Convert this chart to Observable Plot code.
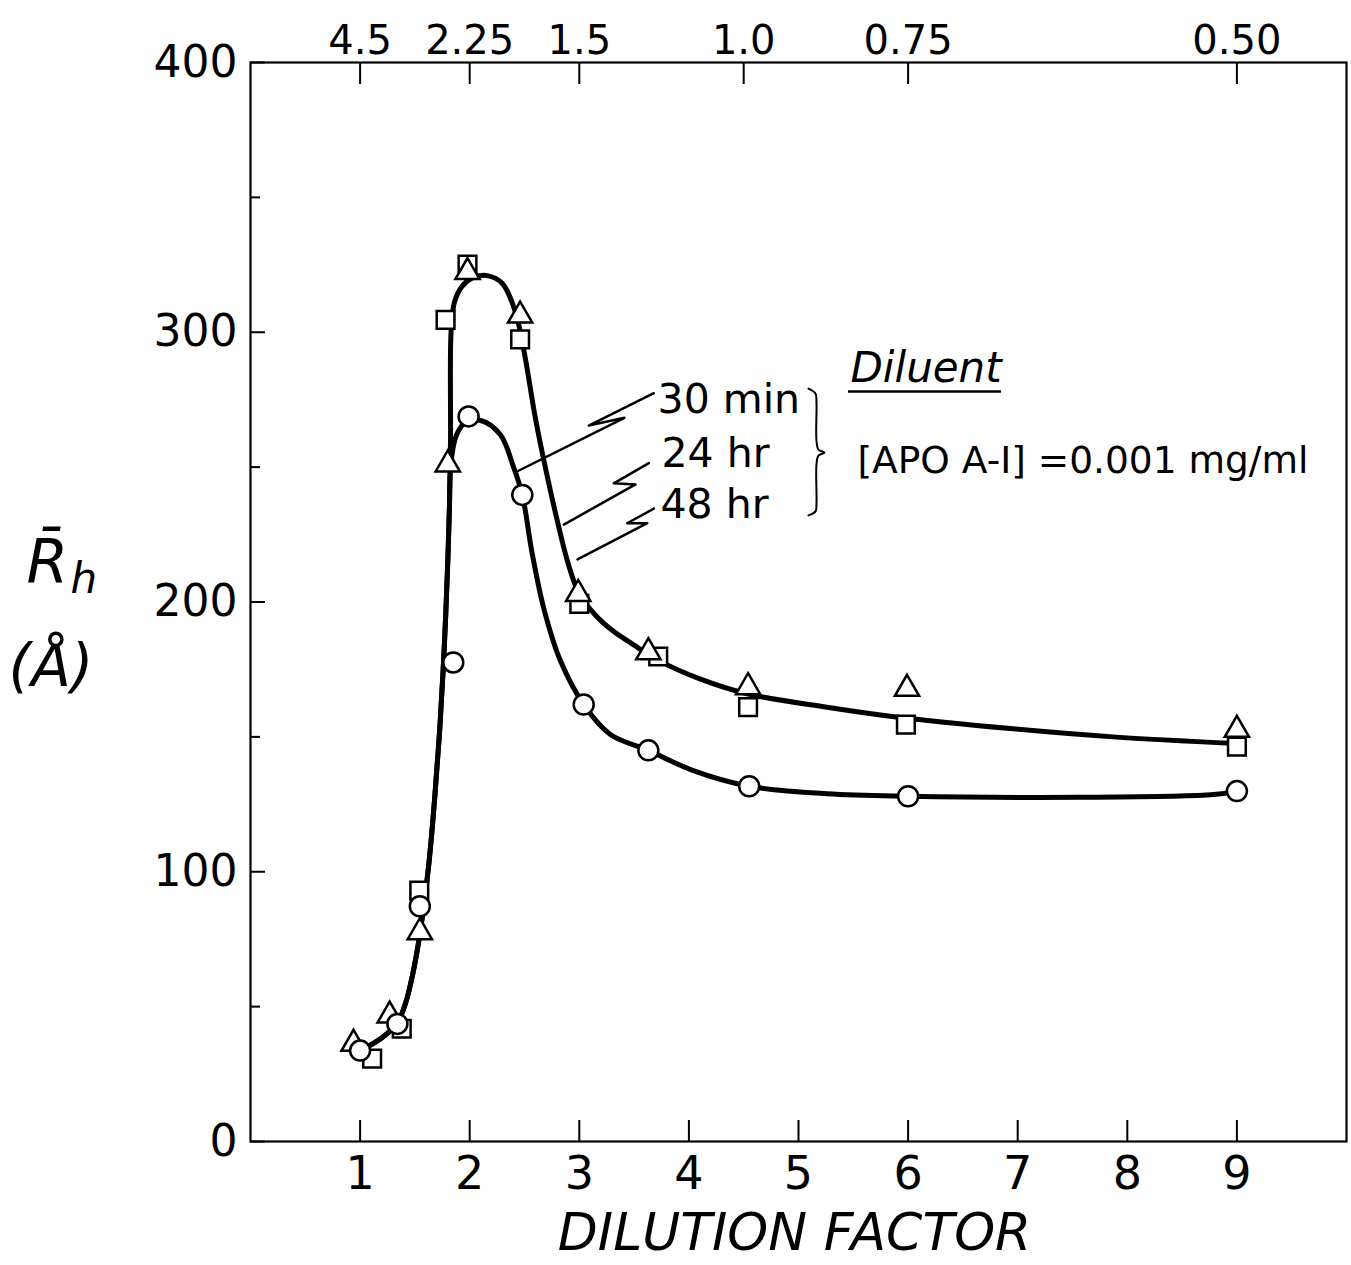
<!DOCTYPE html>
<html><head><meta charset="utf-8">
<script src="https://cdn.jsdelivr.net/npm/d3@7"></script>
<script src="https://cdn.jsdelivr.net/npm/@observablehq/plot@0.6"></script>
<style>
html,body{margin:0;padding:0;background:#fff;}
#chart svg{display:block;}
</style></head><body><div id="chart"></div>
<script>
// ---- data ----
const xTicks = [1, 2, 3, 4, 5, 6, 7, 8, 9];
const topTickPos = [1, 2, 3, 4.5, 6, 9];
const topTickLabels = ["4.5", "2.25", "1.5", "1.0", "0.75", "0.50"];
const yMajor = [0, 100, 200, 300, 400];
const yMinor = [50, 150, 250, 350];

// 30 min (circles)
const circleX = [1.0, 1.34, 1.545, 1.85, 1.99, 2.48, 3.04, 3.63, 4.55, 6.0, 9.0];
const circleY = [33.7, 43.6, 87.2, 177.6, 268.8, 239.7, 162, 145, 131.7, 128, 129.9];
// 24 hr (squares)
const squareX = [1.11, 1.38, 1.54, 1.78, 1.98, 2.46, 3.0, 3.72, 4.54, 5.98, 9.0];
const squareY = [30.7, 41.8, 93, 304.6, 325.1, 297.4, 199.3, 179.8, 161, 154.5, 146.4];
// 48 hr (triangles)
const triangleX = [0.94, 1.27, 1.545, 1.8, 1.98, 2.46, 2.99, 3.63, 4.54, 5.99, 9.0];
const triangleY = [36.2, 46.7, 77.6, 251, 322.3, 306.2, 203, 181.4, 168.4, 167.8, 152.6];

// hand-drawn fitted curves
const upperFitX = [1.0, 1.2, 1.34, 1.42, 1.48, 1.53, 1.58, 1.63, 1.68, 1.73, 1.77, 1.8, 1.815, 1.825, 1.83, 1.86, 1.93, 2.02, 2.16, 2.3, 2.42, 2.5, 2.6, 2.7, 2.8, 2.9, 3.0, 3.15, 3.3, 3.5, 3.74, 4.1, 4.53, 5.26, 5.87, 6.96, 7.87, 9.0];
const upperFitY = [33.7, 38.5, 44, 52, 62, 73, 87, 104, 127, 155, 185, 215, 235, 260, 300, 311, 317, 320, 321, 318, 307, 292, 268, 248, 230, 214, 203, 195, 189.5, 184, 178, 171.5, 166, 161, 157.5, 153, 150, 147.5];
const lowerFitX = [1.0, 1.2, 1.34, 1.42, 1.48, 1.53, 1.58, 1.63, 1.68, 1.73, 1.77, 1.8, 1.815, 1.83, 1.88, 1.96, 2.1, 2.28, 2.4, 2.48, 2.57, 2.68, 2.83, 3.04, 3.28, 3.63, 4.04, 4.55, 5.26, 6.0, 7.57, 8.79, 9.0];
const lowerFitY = [33.7, 38.5, 44, 52, 62, 73, 87, 104, 127, 155, 185, 215, 235, 252, 262, 266.5, 267.3, 262, 250, 239.7, 218, 197, 178, 162, 151, 145, 137.5, 131.7, 128.9, 128, 127.6, 128.6, 129.9];

// ---- build tables ----
const toRows = (xs, ys) => xs.map((x, i) => ({x, y: ys[i]}));
const circles = toRows(circleX, circleY);
const squares = toRows(squareX, squareY);
const triangles = toRows(triangleX, triangleY);
const upperFit = toRows(upperFitX, upperFitY);
const lowerFit = toRows(lowerFitX, lowerFitY);
const topLabel = new Map(topTickPos.map((p, i) => [p, topTickLabels[i]]));

// annotation geometry (leader lines with break marks, brace)
const leaders = [
  [[3.68, 277.4], [3.087, 265.4], [3.412, 268.3], [2.418, 248.1]],
  [[3.634, 251.5], [3.315, 244.0], [3.513, 243.6], [2.859, 228.7]],
  [[3.68, 234.6], [3.437, 229.2], [3.62, 229.2], [2.984, 215.8]]
].flatMap((pts, k) => pts.map(([x, y]) => ({x, y, k})));
const brace = [[5.091, 279.1], [5.155, 277.3], [5.164, 273.9], [5.164, 259.9], [5.182, 256.5], [5.237, 255.4], [5.182, 254.3], [5.164, 251.0], [5.164, 236.5], [5.155, 233.6], [5.091, 232.1]].map(([x, y]) => ({x, y}));

const FONT = "DejaVu Sans";

const chart = Plot.plot({
  width: 1351,
  height: 1265,
  marginLeft: 250,
  marginRight: 5,
  marginTop: 62,
  marginBottom: 124,
  x: {domain: [0, 10]},
  y: {domain: [0, 400]},
  style: {fontFamily: FONT, color: "black", background: "white"},
  marks: [
    Plot.frame({stroke: "black", strokeWidth: 2.2}),
    Plot.axisX(xTicks, {anchor: "bottom", tickSize: -21, tickPadding: 36, fontSize: 46, strokeWidth: 2, label: null}),
    Plot.axisX(topTickPos, {anchor: "top", tickSize: -21, tickPadding: 30, fontSize: 40, strokeWidth: 2, tickFormat: d => topLabel.get(d), label: null}),
    Plot.axisY(yMajor, {anchor: "left", tickSize: -15, tickPadding: 28, fontSize: 44, strokeWidth: 2, label: null}),
    Plot.axisY(yMinor, {anchor: "left", tickSize: -10, tickFormat: () => "", strokeWidth: 2, label: null}),

    // fitted curves
    Plot.line(upperFit, {x: "x", y: "y", curve: "catmull-rom", stroke: "black", strokeWidth: 5}),
    Plot.line(lowerFit, {x: "x", y: "y", curve: "catmull-rom", stroke: "black", strokeWidth: 5}),

    // data points
    Plot.dot(squares, {x: "x", y: "y", symbol: "square", r: 10, fill: "white", stroke: "black", strokeWidth: 2.5}),
    Plot.dot(triangles, {x: "x", y: "y", symbol: "triangle", r: 9, fill: "white", stroke: "black", strokeWidth: 2.5}),
    Plot.dot(circles, {x: "x", y: "y", symbol: "circle", r: 10, fill: "white", stroke: "black", strokeWidth: 2.5}),

    // leaders and brace
    Plot.line(leaders, {x: "x", y: "y", z: "k", stroke: "black", strokeWidth: 2.5}),
    Plot.line(brace, {x: "x", y: "y", curve: "catmull-rom", stroke: "black", strokeWidth: 2}),

    // legend texts
    Plot.text(["30 min"], {x: 3.714, y: 269.9, text: d => d, textAnchor: "start", lineAnchor: "bottom", fontSize: 41, fill: "black"}),
    Plot.text(["24 hr"], {x: 3.75, y: 249.9, text: d => d, textAnchor: "start", lineAnchor: "bottom", fontSize: 41, fill: "black"}),
    Plot.text(["48 hr"], {x: 3.741, y: 231.0, text: d => d, textAnchor: "start", lineAnchor: "bottom", fontSize: 41, fill: "black"}),
    Plot.text(["Diluent"], {x: 5.474, y: 281.7, text: d => d, textAnchor: "start", lineAnchor: "bottom", fontSize: 42, fontStyle: "italic", fill: "black"}),
    Plot.ruleY([278.0], {x1: 5.456, x2: 6.852, stroke: "black", strokeWidth: 2.5}),
    Plot.text(["[APO A-I] =0.001 mg/ml"], {x: 5.538, y: 248.0, text: d => d, textAnchor: "start", lineAnchor: "bottom", fontSize: 37.5, fill: "black"}),

    // axis titles
    Plot.text(["DILUTION FACTOR"], {frameAnchor: "bottom", dx: -4, dy: 108, text: d => d, lineAnchor: "bottom", fontSize: 52, fontStyle: "italic", fill: "black"}),
    Plot.text(["R\u0304"], {frameAnchor: "left", dx: -224, dy: -19, text: d => d, textAnchor: "start", lineAnchor: "bottom", fontSize: 60, fontStyle: "italic", fill: "black"}),
    Plot.text(["h"], {frameAnchor: "left", dx: -180, dy: -9, text: d => d, textAnchor: "start", lineAnchor: "bottom", fontSize: 42, fontStyle: "italic", fill: "black"}),
    Plot.text(["(Å)"], {frameAnchor: "left", dx: -242, dy: 84, text: d => d, textAnchor: "start", lineAnchor: "bottom", fontSize: 58, fontStyle: "italic", fill: "black"})
  ]
});
document.getElementById("chart").appendChild(chart);
</script></body></html>
